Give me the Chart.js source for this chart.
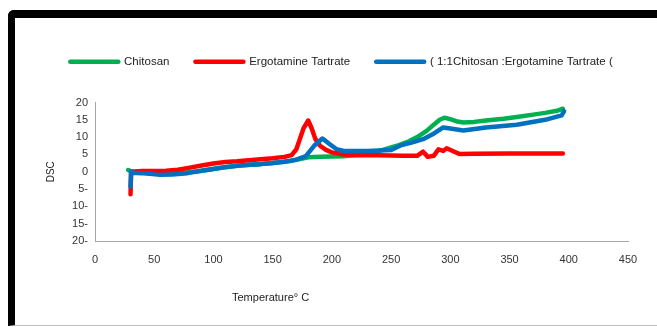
<!DOCTYPE html>
<html>
<head>
<meta charset="utf-8">
<script src="https://cdn.jsdelivr.net/npm/chart.js@4/dist/chart.umd.min.js"></script>
<style>
  body { margin: 0; background: #fff; }
  #frame {
    position: absolute; left: 8px; top: 10px; width: 660px; height: 307px;
    border-top: 8px solid #000; border-left: 7px solid #000;
    border-bottom: 1px solid #bdbdbd; border-top-left-radius: 6px;
  }
  #wrap { position: absolute; left: 15px; top: 18px; width: 642px; height: 307px; }
</style>
</head>
<body>
<div id="frame"></div>
<div id="wrap"><canvas id="dscChart"></canvas></div>
<script>
// DSC thermogram

var chitosanT   = [28, 31, 45, 60, 75, 90, 105, 120, 135, 150, 165, 175, 180, 190, 200, 210, 220, 230, 243, 255, 265, 272, 280, 286, 291, 295, 300, 306, 311, 320, 330, 345, 356, 370, 380, 390, 395];
var chitosanDSC = [0.5, 0, -0.4, -0.6, -0.3, 0.3, 1.1, 1.7, 2.1, 2.5, 3.1, 3.8, 4.2, 4.3, 4.4, 4.5, 4.8, 5.2, 6.3, 7.5, 8.8, 10, 11.8, 13.6, 15, 15.6, 15.2, 14.5, 14.2, 14.4, 14.8, 15.3, 15.8, 16.5, 17.0, 17.6, 18.2];

var ergoT   = [30, 30.5, 40, 60, 70, 80, 90, 100, 110, 120, 130, 140, 150, 160, 166, 170, 173, 176, 180, 183, 186, 190, 195, 200, 210, 220, 240, 260, 272, 277, 281, 286, 290, 294, 297, 302, 308, 320, 350, 395];
var ergoDSC = [-6.5, 0, 0.2, 0.3, 0.6, 1.2, 1.8, 2.4, 2.8, 3.0, 3.3, 3.6, 3.9, 4.3, 4.8, 6.5, 9.5, 12.5, 14.8, 12.5, 9.5, 7.5, 6.3, 5.6, 5.0, 4.8, 4.8, 4.6, 4.6, 5.8, 4.3, 4.6, 6.5, 6.0, 6.8, 6.0, 5.1, 5.2, 5.3, 5.3];

var mixT   = [30, 30.5, 31, 40, 55, 65, 78, 90, 100, 111, 120, 130, 140, 150, 160, 170, 178, 185, 192, 198, 204, 210, 230, 250, 258, 268, 277, 285, 294, 300, 311, 330, 356, 380, 394, 396];
var mixDSC = [-4.3, 0, -0.3, -0.4, -0.9, -0.8, -0.4, 0.3, 0.8, 1.4, 1.7, 2.0, 2.2, 2.5, 2.9, 3.5, 4.5, 7.5, 9.6, 8.0, 6.5, 6.0, 6.0, 6.3, 7.6, 8.5, 9.4, 10.8, 12.8, 12.5, 11.9, 12.8, 13.6, 15.0, 16.3, 17.5];

var seriesNames = ['Chitosan', 'Ergotamine Tartrate', '( 1:1Chitosan :Ergotamine Tartrate ('];
var seriesColors = ['#00b050', '#ff0000', '#0070c0'];

function points(xs, ys) {
    var out = [];
    for (var i = 0; i < xs.length; i++) out.push({x: xs[i], y: ys[i]});
    return out;
}

// x axis title sits left of centre in the original, legend needs extra room below
var extras = {
    id: 'extras',
    beforeLayout: function(chart) {
        var lg = chart.legend;
        if (lg && !lg._padded) {
            var fit = lg.fit;
            lg.fit = function() {
                fit.call(this);
                this.height += 25;
            };
            lg._padded = true;
        }
    },
    afterLayout: function(chart) {
        // legend is a bit right of the plot centre
        chart.legend.left += 20;
        chart.legend.right += 20;
    },
    afterDraw: function(chart) {
        var ctx = chart.ctx;
        ctx.save();
        ctx.font = '11px "Liberation Sans Narrow", "Liberation Sans", Arial';
        ctx.fillStyle = '#222';
        ctx.textAlign = 'left';
        ctx.textBaseline = 'middle';
        ctx.fillText('Temperature° C', 217, 280);
        ctx.restore();
    }
};

new Chart('dscChart', {
    type: 'line',
    data: {
        datasets: [{
            label: seriesNames[0],
            data: points(chitosanT, chitosanDSC),
            borderColor: seriesColors[0],
            backgroundColor: seriesColors[0],
            order: 3
        }, {
            label: seriesNames[1],
            data: points(ergoT, ergoDSC),
            borderColor: seriesColors[1],
            backgroundColor: seriesColors[1],
            order: 2
        }, {
            label: seriesNames[2],
            data: points(mixT, mixDSC),
            borderColor: seriesColors[2],
            backgroundColor: seriesColors[2],
            order: 1
        }]
    },
    options: {
        responsive: true,
        maintainAspectRatio: false,
        animation: false,
        elements: {
            point: { radius: 0 },
            line: { borderWidth: 4.5, tension: 0, borderCapStyle: 'round', borderJoinStyle: 'round' }
        },
        layout: { padding: { top: 12, right: 29, bottom: 0, left: 0 } },
        plugins: {
            tooltip: { enabled: false },
            legend: {
                display: true,
                labels: {
                    boxWidth: 48,
                    boxHeight: 0,
                    padding: 26,
                    color: '#222',
                    font: { family: '"Liberation Sans Narrow", "Liberation Sans", Arial', size: 11.5 },
                    sort: function(a, b) { return a.datasetIndex - b.datasetIndex; }
                }
            }
        },
        scales: {
            x: {
                type: 'linear',
                min: 0,
                max: 450,
                grid: { display: false, drawTicks: false },
                border: { color: '#a6a6a6', width: 1 },
                ticks: {
                    stepSize: 50,
                    padding: 12,
                    color: '#333',
                    font: { family: '"Liberation Sans", Arial', size: 11 }
                },
                afterFit: function(scale) { scale.height = 84; }
            },
            y: {
                min: -20,
                max: 20,
                grid: { display: false, drawTicks: false },
                border: { color: '#a6a6a6', width: 1 },
                title: {
                    display: true,
                    text: 'DSC',
                    color: '#222',
                    padding: { top: 30, bottom: 0 },
                    font: { family: '"Liberation Sans", Arial', size: 10 }
                },
                ticks: {
                    stepSize: 5,
                    padding: 7,
                    color: '#333',
                    font: { family: '"Liberation Sans", Arial', size: 11 },
                    callback: function(v) { return v < 0 ? Math.abs(v) + '-' : String(v); }
                },
                afterFit: function(scale) { scale.width = 80; }
            }
        }
    },
    plugins: [extras]
});
</script>
</body>
</html>
